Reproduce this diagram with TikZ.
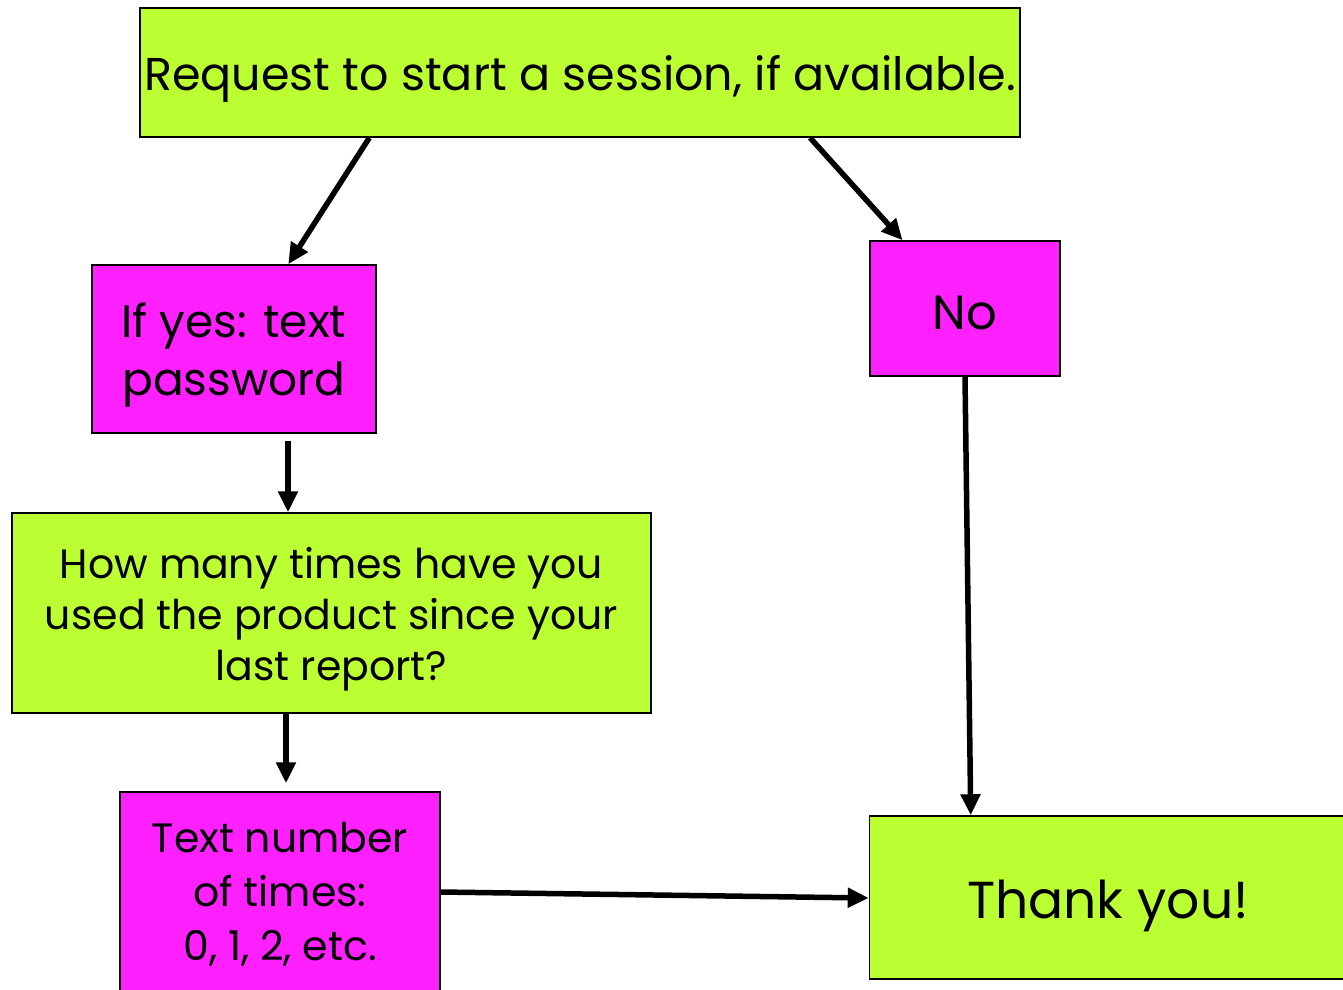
\documentclass[tikz,border=0pt]{standalone}
\usepackage{fontspec}
\setmainfont{Poppins}
\usetikzlibrary{calc,arrows.meta}
\definecolor{boxgreen}{RGB}{187,255,51}
\definecolor{boxmag}{RGB}{255,32,255}
\tikzset{
  gbox/.style={draw=black,line width=1.5pt,fill=boxgreen,inner sep=0pt},
  mbox/.style={draw=black,line width=1.5pt,fill=boxmag,inner sep=0pt},
  txt/.style={align=center,inner sep=0pt},
  arr/.style={line width=5.5pt,-{Triangle[length=21pt,width=19pt]}},
}
\begin{document}
\begin{tikzpicture}[x=1pt,y=-1pt]
\useasboundingbox (0,0) rectangle (1343,989);
\clip (0,0) rectangle (1343,989);
\node[gbox,minimum width=880pt,minimum height=129pt] (top) at (580,72.5) {};
\node[txt,font=\fontsize{46}{52}\selectfont] (toptxt) at ($(top.center)+(0,6)$) {Request to start a session, if available.};
\node[mbox,minimum width=284pt,minimum height=168pt] (ifyes) at (234,349) {};
\node[txt,font=\fontsize{45.5}{58}\selectfont] (ifyestxt) at ($(ifyes.center)+(0,6)$) {If yes: text\\password};
\node[mbox,minimum width=190pt,minimum height=135pt] (no) at (965,308.5) {};
\node[txt,font=\fontsize{48}{52}\selectfont] (notxt) at ($(no.center)+(0,4)$) {No};
\node[gbox,minimum width=639pt,minimum height=200pt] (howmany) at (331.5,613) {};
\node[txt,font=\fontsize{41}{51}\selectfont] (howmanytxt) at ($(howmany.center)+(0,6)$) {How many times have you\\used the product since your\\last report?};
\node[mbox,minimum width=320pt,minimum height=208pt] (textnum) at (280,896) {};
\node[txt,font=\fontsize{41}{54}\selectfont] (textnumtxt) at ($(textnum.center)+(0,-2)$) {Text number\\of times:\\0, 1, 2, etc.};
\node[gbox,minimum width=485pt,minimum height=163pt] (thanks) at (1112,897.5) {};
\node[txt,font=\fontsize{52}{60}\selectfont] (thankstxt) at ($(thanks.center)+(-4,8)$) {Thank you!};
\draw[arr] ($(top.south west)!0.261!(top.south east)$) -- ($(ifyes.north west)!0.69!(ifyes.north east)$);
\draw[arr] ($(top.south west)!0.761!(top.south east)$) -- ($(no.north west)!0.174!(no.north east)$);
\draw[arr] ($(ifyes.south)+(54,7)$) -- ($(howmany.north)+(-43.5,0)$);
\draw[arr] ($(howmany.south)+(-45.5,0)$) -- ($(textnum.north)+(6,-8)$);
\draw[arr] (no.south) -- ($(thanks.north west)+(102,0)$);
\draw[arr] ($(textnum.east)+(0,-4)$) -- ($(thanks.west)+(0,0.5)$);
\end{tikzpicture}
\end{document}
